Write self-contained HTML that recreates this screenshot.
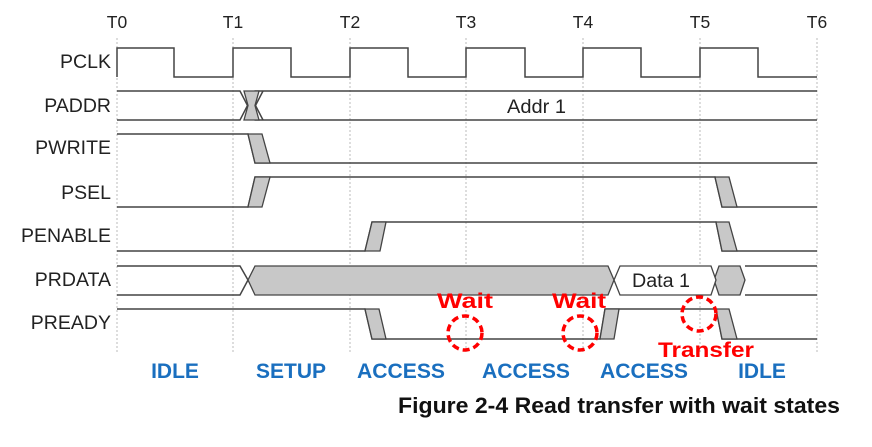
<!DOCTYPE html>
<html><head><meta charset="utf-8"><style>
html,body{margin:0;padding:0;background:#fff;width:872px;height:447px;overflow:hidden}
svg{display:block}
.n{font-family:"Liberation Sans",sans-serif;font-size:19.5px;fill:#222;text-anchor:end}
.t{font-family:"Liberation Sans",sans-serif;font-size:17.5px;fill:#222;text-anchor:middle}
.p{font-family:"Liberation Sans",sans-serif;font-size:21px;font-weight:bold;fill:#1a6fbf;text-anchor:middle}
.r{font-family:"Liberation Sans",sans-serif;font-size:21px;font-weight:bold;fill:#f00;text-anchor:middle}
</style></head><body>
<svg width="872" height="447" viewBox="0 0 872 447">
<g stroke="#bbb" stroke-width="1" stroke-dasharray="2,2">
<line x1="117" y1="38" x2="117" y2="352"/><line x1="233" y1="38" x2="233" y2="352"/><line x1="350" y1="38" x2="350" y2="352"/><line x1="466" y1="38" x2="466" y2="352"/><line x1="583" y1="38" x2="583" y2="352"/><line x1="700" y1="38" x2="700" y2="352"/><line x1="817" y1="38" x2="817" y2="352"/>
</g>
<g class="t"><text x="117" y="28">T0</text><text x="233" y="28">T1</text><text x="350" y="28">T2</text><text x="466" y="28">T3</text><text x="583" y="28">T4</text><text x="700" y="28">T5</text><text x="817" y="28">T6</text></g>
<g class="n"><text x="111" y="68">PCLK</text><text x="111" y="112">PADDR</text><text x="111" y="154">PWRITE</text><text x="111" y="199">PSEL</text><text x="111" y="242">PENABLE</text><text x="111" y="286">PRDATA</text><text x="111" y="329">PREADY</text></g>
<g fill="none" stroke="#444" stroke-width="1.5">
<polyline points="117,77 117,48 174,48 174,77 233,77 233,48 291,48 291,77 350,77 350,48 408,48 408,77 466,77 466,48 525,48 525,77 583,77 583,48 641,48 641,77 700,77 700,48 758,48 758,77 817,77"/>
<polyline points="117,91 240,91 255,120 817,120"/><polyline points="117,120 240,120 255,91 817,91"/>
<polyline points="248,91 263,120"/><polyline points="248,120 263,91"/>
<polyline points="117,134 248,134 255,163 817,163"/>
<polyline points="117,207 248,207 255,177 715,177 722,207 817,207"/>
<polyline points="117,251 365,251 372,222 716,222 722,251 817,251"/>
<polyline points="117,309 365,309 372,339 600,339 605,309 716,309 722,339 817,339"/>
<polyline points="117,266 240,266 248,280 240,295 117,295"/>
<polyline points="745,266 817,266"/><polyline points="745,295 817,295"/>
</g>
<g fill="#c8c8c8" stroke="#444" stroke-width="1.3">
<polygon points="244,91 259,91 255,105.5 259,120 244,120 248,105.5"/>
<polygon points="248,134 262,134 270,163 255,163"/>
<polygon points="248,207 262,207 270,177 255,177"/>
<polygon points="715,177 729,177 737,207 722,207"/>
<polygon points="365,251 380,251 386,222 372,222"/>
<polygon points="716,222 729,222 737,251 722,251"/>
<polygon points="365,309 379,309 386,339 372,339"/>
<polygon points="600,339 614,339 619,309 605,309"/>
<polygon points="716,309 729,309 737,339 722,339"/>
<polygon points="255,266 608,266 614,280 608,295 255,295 248,280"/>
<polygon points="719,266 740,266 745,280 740,295 719,295 714,280"/>
</g>
<polygon points="620,266 711,266 716,280 711,295 620,295 614,280" fill="#fff" stroke="#444" stroke-width="1.3"/>
<text x="632" y="287" textLength="58" lengthAdjust="spacingAndGlyphs" font-family="Liberation Sans,sans-serif" font-size="19" fill="#222">Data 1</text>
<text x="507" y="113" textLength="59" lengthAdjust="spacingAndGlyphs" font-family="Liberation Sans,sans-serif" font-size="19" fill="#222">Addr 1</text>
<g fill="none" stroke="#f00" stroke-width="3.5" stroke-dasharray="7,4">
<circle cx="465" cy="333" r="17"/><circle cx="580" cy="333" r="17"/><circle cx="699" cy="314" r="17"/>
</g>
<g class="r"><text x="465" y="308" textLength="56" lengthAdjust="spacingAndGlyphs">Wait</text><text x="579" y="308" textLength="54" lengthAdjust="spacingAndGlyphs">Wait</text><text x="706" y="357" textLength="96" lengthAdjust="spacingAndGlyphs">Transfer</text></g>
<g class="p"><text x="175" y="378">IDLE</text><text x="291" y="378">SETUP</text><text x="401" y="378" textLength="88" lengthAdjust="spacingAndGlyphs">ACCESS</text><text x="526" y="378" textLength="88" lengthAdjust="spacingAndGlyphs">ACCESS</text><text x="644" y="378" textLength="88" lengthAdjust="spacingAndGlyphs">ACCESS</text><text x="762" y="378">IDLE</text></g>
<text x="398" y="413" textLength="442" lengthAdjust="spacingAndGlyphs" font-family="Liberation Sans,sans-serif" font-size="22" font-weight="bold" fill="#111">Figure 2-4 Read transfer with wait states</text>
</svg>
</body></html>
